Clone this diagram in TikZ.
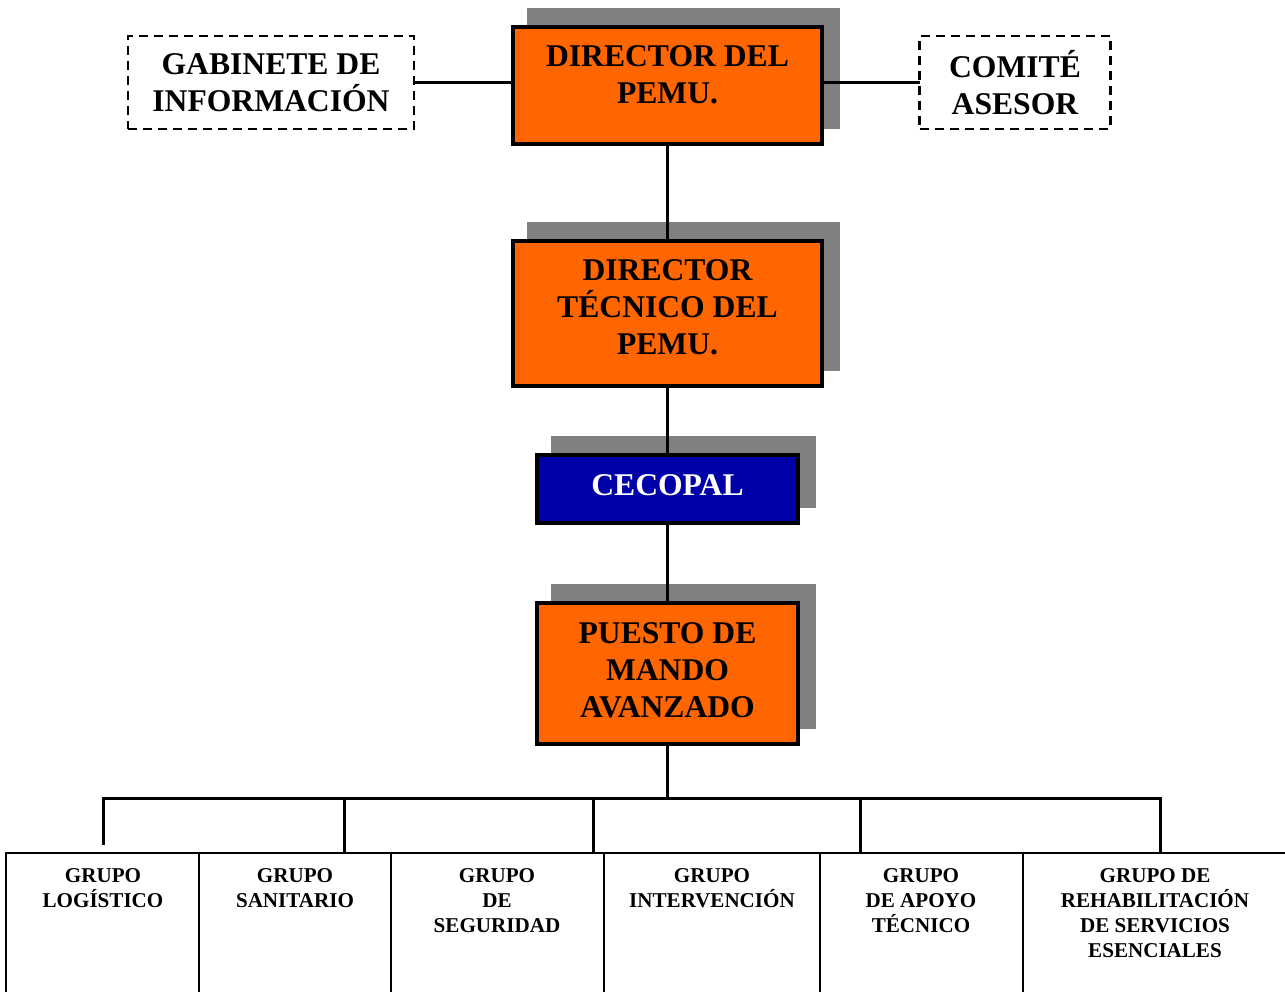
\documentclass[tikz,border=0pt]{standalone}
\usepackage{fontspec}
\setmainfont{Liberation Serif}
\usepackage{xcolor}
\usetikzlibrary{shadows}

\definecolor{pemuorange}{HTML}{FF6600}
\definecolor{cecoblue}{HTML}{0000A8}
\definecolor{shadowgray}{HTML}{808080}

\newcommand{\bigtext}{\fontsize{18}{21}\selectfont\bfseries}
\newcommand{\grouptext}{\fontsize{12}{14.2}\selectfont\bfseries}

\begin{document}
\begin{tikzpicture}[
    % GLOBAL CFG
    x=0.02cm, y=-0.02cm,
    % Styles
    link/.style={% connectors
        line width=0.06cm,
        },
    headbox/.style={% orange / blue boxes with shadow
        rectangle,
        draw,
        line width=0.08cm,
        inner sep=0pt,
        outer sep=0pt,
        fill=pemuorange,
        drop shadow={shadow xshift=0.32cm, shadow yshift=0.34cm,
            opacity=1, fill=shadowgray, draw=shadowgray, line width=0.08cm},
        },
    sidebox/.style={% dashed side boxes
        rectangle,
        draw,
        line width=0.05cm,
        dash pattern=on 0.18cm off 0.12cm,
        inner sep=0pt,
        outer sep=0pt,
        minimum height=1.86cm,
        align=center,
        font=\bigtext,
        },
    groupbox/.style={% the bottom row
        rectangle,
        draw,
        line width=0.04cm,
        inner sep=0pt,
        outer sep=0pt,
        minimum height=2.94cm,
        },
    boxtext/.style={%
        align=center,
        inner sep=0pt,
        font=\bigtext,
        },
    grouplabel/.style={%
        align=center,
        inner sep=0pt,
        anchor=north,
        font=\grouptext,
        },
    ]

    \useasboundingbox (0,0) rectangle (1285,991);
    \clip (0,0) rectangle (1285,991);

    % Main chain named dir, tec, ceco, pma
    \node [headbox, minimum width=6.18cm, minimum height=2.34cm] (dir) at (667.5,85.5) {};
    \node [boxtext] (dirtext) at (667.5,75) {DIRECTOR DEL\\PEMU.};

    \node [headbox, minimum width=6.18cm, minimum height=2.9cm] (tec) at (667.5,313.5) {};
    \node [boxtext] (tectext) at (667.5,307.5) {DIRECTOR\\TÉCNICO DEL\\PEMU.};

    \node [headbox, fill=cecoblue, minimum width=5.22cm, minimum height=1.36cm] (ceco) at (667.5,489) {};
    \node [boxtext, text=white] (cecotext) at (667.5,485) {CECOPAL};

    \node [headbox, minimum width=5.22cm, minimum height=2.82cm] (pma) at (667.5,673.5) {};
    \node [boxtext] (pmatext) at (667.5,670) {PUESTO DE\\MANDO\\AVANZADO};

    % Side boxes
    \node [sidebox, minimum width=5.72cm] (gab) at (271,82.5) {GABINETE DE\\INFORMACIÓN};
    \node [sidebox, minimum width=3.82cm] (com) at (1015,82.5) {COMITÉ\\ASESOR};

    % Bottom row of groups
    \node [groupbox, minimum width=3.86cm] (glog) at (102.5,926.5) {};
    \node [groupbox, minimum width=3.84cm] (gsan) at (295,926.5) {};
    \node [groupbox, minimum width=4.26cm] (gseg) at (497.5,926.5) {};
    \node [groupbox, minimum width=4.32cm] (gint) at (712,926.5) {};
    \node [groupbox, minimum width=4.06cm] (gapo) at (921.5,926.5) {};
    \node [groupbox, minimum width=5.3cm] (greh) at (1155.5,926.5) {};

    \node [grouplabel] (loglabel) at (103,868) {GRUPO\\LOGÍSTICO};
    \node [grouplabel] (sanlabel) at (295,868) {GRUPO\\SANITARIO};
    \node [grouplabel] (seglabel) at (497,868) {GRUPO\\DE\\SEGURIDAD};
    \node [grouplabel] (intlabel) at (712,868) {GRUPO\\INTERVENCIÓN};
    \node [grouplabel] (apolabel) at (921,868) {GRUPO\\DE APOYO\\TÉCNICO};
    \node [grouplabel] (rehlabel) at (1155,868) {GRUPO DE\\REHABILITACIÓN\\DE SERVICIOS\\ESENCIALES};

    % Connectors
    \draw [link] (gab.east) -- (gab.east -| dir.west);
    \draw [link] (com.west) -- (com.west -| dir.east);
    \draw [link] (dir) -- (tec);
    \draw [link] (tec) -- (ceco);
    \draw [link] (ceco) -- (pma);

    % Bus to the groups
    \coordinate (bus) at (664,798);
    \coordinate (d1) at (103,845);
    \coordinate (d2) at (344,853);
    \coordinate (d3) at (593,853);
    \coordinate (d4) at (860,853);
    \coordinate (d5) at (1160,853);
    \draw [link] (pma.south) -- (pma.south |- bus);
    \draw [link] (d1) |- (d5 |- bus) -- (d5);
    \foreach \d in {d2,d3,d4}
        \draw [link] (\d |- bus) -- (\d);

\end{tikzpicture}
\end{document}
